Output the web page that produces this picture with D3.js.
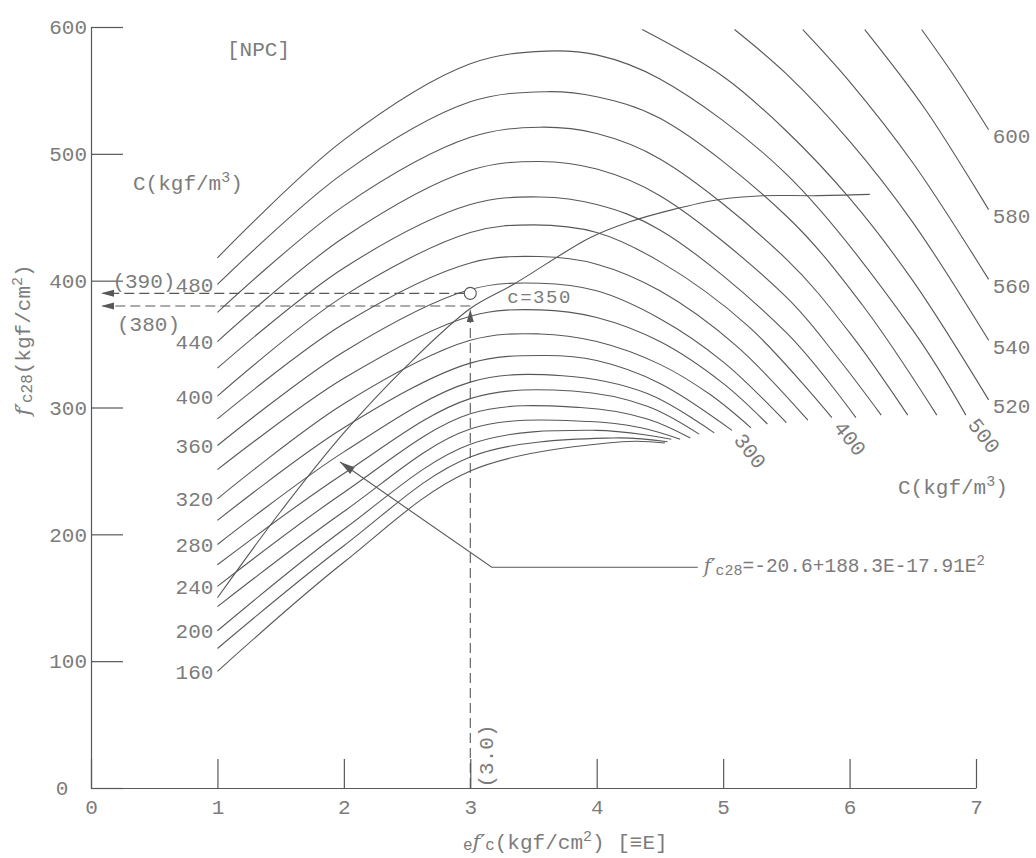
<!DOCTYPE html>
<html>
<head>
<meta charset="utf-8">
<script src="https://cdn.jsdelivr.net/npm/d3@7"></script>
<style>
  body { margin: 0; background: #fff; }
  text { font-family: "Liberation Mono", "DejaVu Sans Mono", monospace; fill: #7c7c7c; }
  .lbl { font-size: 21px; }
  .fit { font-family: "DejaVu Serif", serif; font-style: italic; }
</style>
</head>
<body>
<div id="chart"></div>
<script>
// tick values
const xTicks = [0, 1, 2, 3, 4, 5, 6, 7];
const yTicks = [0, 100, 200, 300, 400, 500, 600];

// cement content of each curve, kgf/m3
const cementLevels = [160, 180, 200, 220, 240, 260, 280, 300, 320, 340, 360, 380,
                      400, 420, 440, 460, 480, 500, 520, 540, 560, 580, 600];

// curves: [E, f'c28]
const c160 = [[1, 92], [2, 178], [3, 250], [4.2, 273], [4.54, 272]];
const c180 = [[1, 110], [2, 191], [3, 261], [4.13, 276], [4.56, 273]];
const c200 = [[1, 124], [2, 204], [3, 271], [4.0, 282], [4.59, 275]];
const c220 = [[1, 143], [2, 218], [3, 283], [3.95, 289], [4.35, 284], [4.66, 275]];
const c240 = [[1, 159], [2, 233], [3, 295], [3.87, 300], [4.4, 291], [4.74, 276]];
const c260 = [[1, 176], [2, 248], [3, 307], [3.81, 313], [4.4, 301], [4.81, 279]];
const c280 = [[1, 192], [2, 265], [3, 320], [3.73, 325], [4.4, 311], [4.93, 280]];
const c300 = [[1, 211], [2, 284], [3, 335], [3.6, 341], [4.0, 337], [4.5, 319], [5.07, 282]];
const c320 = [[1, 228], [2, 303], [3, 353], [3.55, 358], [4.0, 352], [4.5, 334], [4.9, 310], [5.22, 284]];
const c340 = [[1, 251], [2, 323], [3, 372], [3.55, 377], [4.0, 371], [4.5, 352], [5, 319], [5.35, 287]];
const c360 = [[1, 270], [2, 344], [3, 393], [3.55, 398], [4.0, 392], [4.5, 370], [5, 336], [5.5, 288]];
const c380 = [[1, 291], [2, 366], [3, 414], [3.55, 419], [4.0, 413], [4.5, 392], [5.1, 349], [5.67, 290]];
const c400 = [[1, 309], [2, 388], [3, 438], [3.5, 444], [4.0, 438], [4.5, 415], [5.2, 364], [5.86, 292]];
const c420 = [[1, 331], [2, 410], [3, 460], [3.55, 466], [4.0, 460], [4.5, 440], [5.5, 359], [6.05, 292]];
const c440 = [[1, 352], [2, 434], [3, 487], [3.55, 494], [4.0, 488], [4.5, 467], [5.5, 387], [5.9, 340], [6.25, 294]];
const c460 = [[1, 375], [2, 459], [3, 513], [3.55, 521], [4.0, 516], [4.5, 496], [5.5, 417], [6, 359], [6.46, 294]];
const c480 = [[1, 397], [2, 485], [3, 541], [3.6, 549], [4.0, 545], [4.5, 528], [5.5, 451], [6.1, 381], [6.69, 294]];
const c500 = [[1, 418], [2, 511], [3, 571], [3.6, 581], [4.0, 578], [4.5, 559], [5.5, 484], [6.5, 361], [6.92, 294]];
const c520 = [[4.36, 598], [5, 561], [5.5, 518], [6, 465], [6.5, 400], [7.1, 306]];
const c540 = [[5.09, 598], [5.5, 563], [6, 510], [6.5, 446], [7.1, 353]];
const c560 = [[5.63, 598], [6, 557], [6.5, 493], [7.1, 401]];
const c580 = [[6.12, 598], [6.6, 535], [7.1, 456]];
const c600 = [[6.57, 598], [6.83, 561], [7.1, 519]];

const curvePoints = [c160, c180, c200, c220, c240, c260, c280, c300, c320, c340, c360, c380,
                     c400, c420, c440, c460, c480, c500, c520, c540, c560, c580, c600];

// f'c28 = -20.6 + 188.3E - 17.91E^2 as drawn
const ridgePoints = [[1.0, 150], [1.5, 218], [2.0, 280], [2.5, 333], [3.0, 378], [3.34, 397],
                     [3.95, 434], [4.25, 446], [4.6, 456], [4.97, 464], [5.31, 467], [5.71, 467], [6.16, 468]];

const leftLabels = [160, 200, 240, 280, 320, 360, 400, 440, 480];
const rightLabels = [520, 540, 560, 580, 600];
const tiltedLabels = [300, 400, 500];

const readE = 3.0;
const readF = [390, 380];

const W = 1036, H = 858;
const ink = "#585858";

const svg = d3.select("#chart").append("svg")
    .attr("width", W)
    .attr("height", H)

const x = d3.scaleLinear().domain([0, 7]).range([91, 976]);
const y = d3.scaleLinear().domain([0, 600]).range([788, 27]);

const curveOf = c => curvePoints[cementLevels.indexOf(c)];

// axes
const yAxis = svg.append("g")
    .attr("transform", `translate(${x(0)},0)`)
    .call(d3.axisLeft(y).tickValues(yTicks).tickSize(-32).tickSizeOuter(0).tickPadding(4))
const xAxis = svg.append("g")
    .attr("transform", `translate(0,${y(0)})`)
    .call(d3.axisBottom(x).tickValues(xTicks).tickFormat(d3.format("d"))
        .tickSize(-29).tickSizeOuter(0).tickPadding(11))

;[yAxis, xAxis].forEach(g => {
    g.attr("font-family", null).attr("font-size", null);
    g.selectAll("path, line").attr("stroke", ink).attr("stroke-width", 1.2);
    g.selectAll("text").attr("class", "lbl").attr("fill", null);
});
// the y zero sits further left, clear of the x zero
yAxis.selectAll(".tick").filter(d => d === 0).select("text")
    .attr("x", -29).attr("text-anchor", "middle")

// strength curves
const line = d3.line()
    .x(d => x(d[0]))
    .y(d => y(d[1]))
    .curve(d3.curveCatmullRom.alpha(0.5))

svg.append("g")
    .selectAll("path")
    .data(curvePoints)
    .enter().append("path")
    .attr("d", line)
    .attr("fill", "none")
    .attr("stroke", ink)
    .attr("stroke-width", 1.1)

svg.append("path")
    .datum(ridgePoints)
    .attr("d", line)
    .attr("fill", "none")
    .attr("stroke", ink)
    .attr("stroke-width", 1.1)

// curve labels
svg.append("g").selectAll("text")
    .data(leftLabels)
    .enter().append("text")
    .attr("class", "lbl")
    .attr("x", d => x(curveOf(d)[0][0]) - 4)
    .attr("y", d => y(curveOf(d)[0][1]) + 2)
    .attr("text-anchor", "end")
    .attr("dominant-baseline", "middle")
    .text(d => d)

svg.append("g").selectAll("text")
    .data(rightLabels)
    .enter().append("text")
    .attr("class", "lbl")
    .attr("x", d => { const p = curveOf(d); return x(p[p.length - 1][0]) + 4; })
    .attr("y", d => { const p = curveOf(d); return y(p[p.length - 1][1]) + 8; })
    .attr("dominant-baseline", "middle")
    .text(d => d)

svg.append("g").selectAll("text")
    .data(tiltedLabels)
    .enter().append("text")
    .attr("class", "lbl")
    .attr("transform", d => {
        const p = curveOf(d), e = p[p.length - 1];
        return `translate(${x(e[0]) + 1},${y(e[1]) + 10}) rotate(52)`;
    })
    .text(d => d)

// reading lines for c=350
function arrow(tx, ty, dx, dy, len, half) {
    const n = Math.hypot(dx, dy); dx /= n; dy /= n;
    const bx = tx - dx * len, by = ty - dy * len;
    return `M${tx},${ty}L${bx - dy * half},${by + dx * half}L${bx + dy * half},${by - dx * half}Z`;
}

const dash = svg.append("g")
    .attr("stroke", ink)
    .attr("stroke-width", 1.1)
    .attr("stroke-dasharray", "10,5")
    .attr("fill", "none")

dash.append("line")
    .attr("x1", x(readE) - 6).attr("x2", x(0) + 12)
    .attr("y1", y(readF[0])).attr("y2", y(readF[0]))
dash.append("line")
    .attr("x1", x(readE)).attr("x2", x(0) + 12)
    .attr("y1", y(readF[1])).attr("y2", y(readF[1]))
dash.append("line")
    .attr("x1", x(readE)).attr("x2", x(readE))
    .attr("y1", y(0)).attr("y2", y(readF[1]) + 14)

const heads = svg.append("g").attr("fill", ink)
heads.append("path").attr("d", arrow(x(0) + 10, y(readF[0]), -1, 0, 13, 3.5))
heads.append("path").attr("d", arrow(x(0) + 10, y(readF[1]), -1, 0, 13, 3.5))
heads.append("path").attr("d", arrow(x(readE), y(readF[1]) + 3, 0, -1, 13, 3.5))

svg.append("circle")
    .attr("cx", x(readE))
    .attr("cy", y(readF[0]))
    .attr("r", 6)
    .attr("fill", "#fff")
    .attr("stroke", ink)
    .attr("stroke-width", 1.1)

// "(390)" sits just before the 480 label, "(380)" under the lower line
svg.append("text").attr("class", "lbl")
    .attr("x", x(1) - 42).attr("y", y(400) + 2)
    .attr("text-anchor", "end")
    .attr("dominant-baseline", "middle")
    .text("(390)")
svg.append("text").attr("class", "lbl")
    .attr("x", x(0) + 26).attr("y", y(380) + 19)
    .attr("dominant-baseline", "middle")
    .text("(380)")

svg.append("text").attr("class", "lbl")
    .attr("x", x(readE) + 37).attr("y", y(readF[0]) + 5)
    .attr("dominant-baseline", "middle")
    .attr("letter-spacing", 1.5)
    .style("font-size", "19px")
    .text("c=350")

svg.append("text").attr("class", "lbl")
    .attr("transform", `translate(${x(readE) + 17},${y(0) - 32}) rotate(-90)`)
    .attr("text-anchor", "middle")
    .attr("dominant-baseline", "middle")
    .text("(3.0)")

// leader to the fitted equation
const tip = [x(1.97), y(257)], bend = [x(3.17), y(174)], end = [x(4.8), y(174)];
svg.append("path")
    .attr("d", `M${tip}L${bend}L${end}`)
    .attr("fill", "none")
    .attr("stroke", ink)
    .attr("stroke-width", 1.1)
heads.append("path").attr("d", arrow(tip[0], tip[1], tip[0] - bend[0], tip[1] - bend[1], 15, 4))

const eq = svg.append("text").attr("class", "lbl")
    .attr("x", end[0] + 6).attr("y", end[1])
    .attr("dominant-baseline", "middle")
    .style("font-size", "19.5px")
eq.append("tspan").attr("class", "fit").text("f′")
eq.append("tspan").attr("baseline-shift", "-25%").style("font-size", "15px").text("c28")
eq.append("tspan").text("=-20.6+188.3E-17.91E")
eq.append("tspan").attr("baseline-shift", "40%").style("font-size", "14px").text("2")

// titles
svg.append("text").attr("class", "lbl")
    .attr("x", 227).attr("y", 50)
    .attr("dominant-baseline", "middle")
    .text("[NPC]")

function unitLabel(tx, ty) {
    const t = svg.append("text").attr("class", "lbl")
        .attr("x", tx).attr("y", ty)
        .attr("dominant-baseline", "middle")
    t.append("tspan").text("C(kgf/m")
    t.append("tspan").attr("baseline-shift", "40%").style("font-size", "15px").text("3")
    t.append("tspan").text(")")
}
unitLabel(133, 184)
unitLabel(898, 488)

const yt = svg.append("text").attr("class", "lbl")
    .attr("transform", "translate(24,340) rotate(-90)")
    .attr("text-anchor", "middle")
    .attr("dominant-baseline", "middle")
yt.append("tspan").attr("class", "fit").text("f′")
yt.append("tspan").attr("baseline-shift", "-25%").style("font-size", "16px").text("c28")
yt.append("tspan").text("(kgf/cm")
yt.append("tspan").attr("baseline-shift", "40%").style("font-size", "15px").text("2")
yt.append("tspan").text(")")

const xt = svg.append("text").attr("class", "lbl")
    .attr("x", 463).attr("y", 843)
    .attr("dominant-baseline", "middle")
xt.append("tspan").attr("baseline-shift", "-20%").style("font-size", "16px").text("e")
xt.append("tspan").attr("class", "fit").text("f′")
xt.append("tspan").attr("baseline-shift", "-20%").style("font-size", "16px").text("c")
xt.append("tspan").text("(kgf/cm")
xt.append("tspan").attr("baseline-shift", "40%").style("font-size", "15px").text("2")
xt.append("tspan").text(") [≡E]")
</script>
</body>
</html>
